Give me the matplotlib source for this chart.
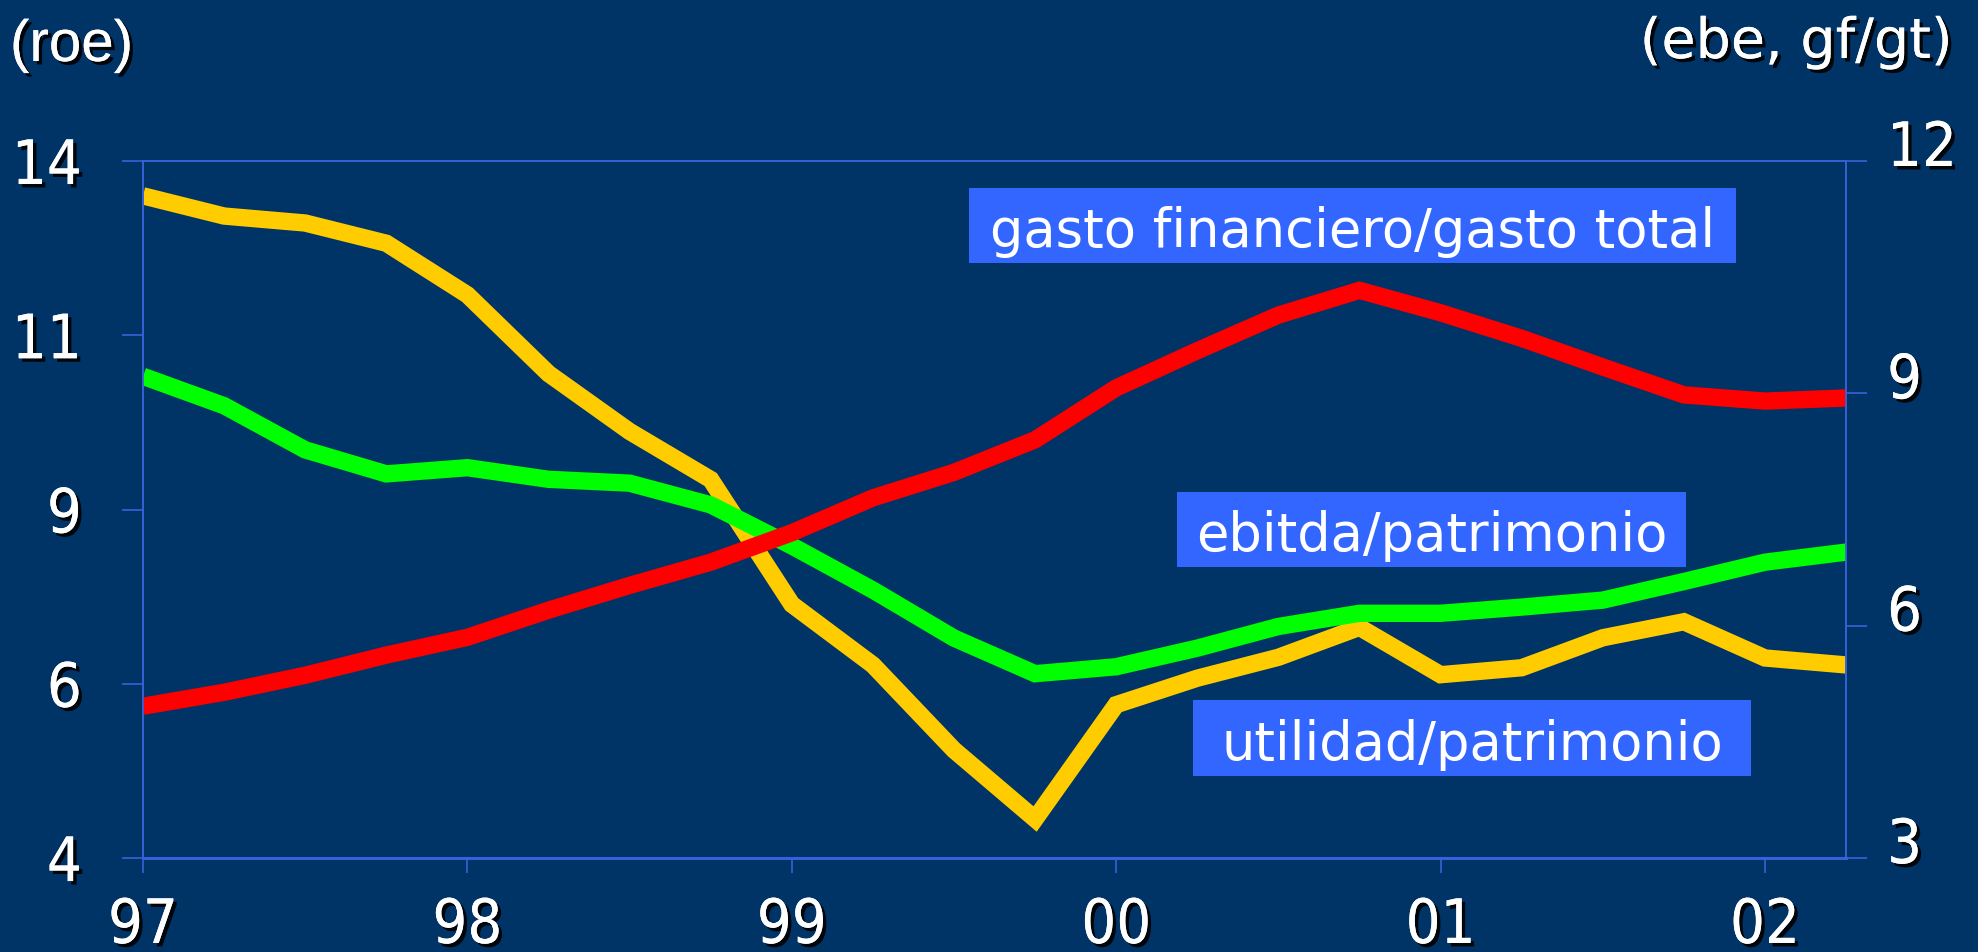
import matplotlib
matplotlib.use("Agg")
import matplotlib.pyplot as plt
import matplotlib.patches as patches
import matplotlib.patheffects as pe
import matplotlib.transforms as mtransforms
from matplotlib import font_manager

# quarterly data, 1997Q1 .. 2002Q2
quarters = [1997 + 0.25 * i for i in range(22)]

utilidad_patrimonio = [13.50, 13.21, 13.11, 12.82, 12.08, 10.95, 10.12, 9.43,
                       7.64, 6.77, 5.55, 4.56, 6.20, 6.58, 6.88, 7.31,
                       6.63, 6.73, 7.16, 7.39, 6.87, 6.77]
ebitda_patrimonio = [9.22, 8.84, 8.27, 7.96, 8.04, 7.89, 7.84, 7.56,
                     7.03, 6.46, 5.84, 5.38, 5.47, 5.71, 5.99, 6.16,
                     6.16, 6.24, 6.33, 6.57, 6.82, 6.95]
gasto_fin_total = [4.96, 5.14, 5.36, 5.62, 5.85, 6.20, 6.52, 6.82,
                   7.20, 7.65, 7.98, 8.40, 9.07, 9.55, 10.01, 10.33,
                   10.04, 9.71, 9.34, 8.98, 8.90, 8.94]

year_ticks = [1997, 1998, 1999, 2000, 2001, 2002]
year_labels = ["97", "98", "99", "00", "01", "02"]
left_ticks = [4, 6.5, 9, 11.5, 14]
left_labels = ["4", "6", "9", "11", "14"]
right_ticks = [3, 6, 9, 12]
right_labels = ["3", "6", "9", "12"]

BG = "#003366"
AXC = "#3a60d8"
BOX = "#3366ff"


def narrow_font(size):
    # look for any condensed / narrow sans on the system
    prefs = ["LiberationSansNarrow-Regular", "ArialNarrow", "arialn",
             "DejaVuSansCondensed.ttf", "NotoSans-Condensed.ttf",
             "RobotoCondensed-Regular", "Condensed-Regular", "Condensed"]
    files = [f.fname for f in font_manager.fontManager.ttflist]
    for p in prefs:
        for fn in files:
            base = fn.split("/")[-1]
            if p in base and "Bold" not in base and "Oblique" not in base \
                    and "Italic" not in base and "Light" not in base:
                return font_manager.FontProperties(fname=fn, size=size), True
    return font_manager.FontProperties(family="Liberation Sans", size=size), False


fp_num, is_narrow = narrow_font(44)
if not is_narrow:
    fp_num.set_size(40)

shadow = [pe.withSimplePatchShadow(offset=(2.5, -2.5), shadow_rgbFace="black", alpha=0.9),
          pe.Normal()]

fig = plt.figure(figsize=(19.78, 9.52), dpi=100, facecolor=BG)
ax = fig.add_axes([0.0723, 0.0987, 0.8610, 0.7322])
ax.set_facecolor(BG)
ax2 = ax.twinx()

line_kw = dict(lw=12.5, solid_joinstyle="miter", solid_capstyle="butt")
ax.plot(quarters, utilidad_patrimonio, color="#ffcc00", **line_kw)
ax2.plot(quarters, ebitda_patrimonio, color="#00ff00", **line_kw)
ax2.plot(quarters, gasto_fin_total, color="#ff0000", **line_kw)

ax.set_xlim(1997, 2002.25)
ax.set_ylim(4, 14)
ax2.set_ylim(3, 12)

for a in (ax, ax2):
    for s in a.spines.values():
        s.set_color(AXC)
        s.set_linewidth(1.2)
ax.spines["bottom"].set_linewidth(2.2)

ax.set_xticks(year_ticks)
ax.set_xticklabels(year_labels)
ax.tick_params(axis="x", direction="out", length=11, width=1.2, color=AXC,
               pad=17, labelcolor="white")
ax.set_yticks(left_ticks)
ax.set_yticklabels(left_labels)
ax.tick_params(axis="y", direction="out", length=15, width=1.2, color=AXC,
               pad=29, labelcolor="white")
for lab in ax.get_xticklabels() + ax.get_yticklabels():
    lab.set_fontproperties(fp_num)
    lab.set_path_effects(shadow)

ax2.set_yticks(right_ticks)
ax2.set_yticklabels([])
ax2.tick_params(axis="y", direction="out", length=15, width=1.2, color=AXC)
rtrans = mtransforms.blended_transform_factory(ax2.transAxes, ax2.transData) + \
    mtransforms.ScaledTranslation(0.41, -0.05, fig.dpi_scale_trans)
for v, t in zip(right_ticks, right_labels):
    ax2.text(1.0, v, t, transform=rtrans, ha="left", va="baseline",
             fontproperties=fp_num, color="white", path_effects=shadow,
             clip_on=False)

fig.text(10 / 1978, 1 - 61 / 952, "(roe)", ha="left", va="baseline",
         fontsize=42, family="Liberation Sans", color="white", path_effects=shadow)
fig.text(1952 / 1978, 1 - 58 / 952, "(ebe, gf/gt)", ha="right", va="baseline",
         fontsize=40, family="DejaVu Sans", color="white", path_effects=shadow)

# label boxes (pixel positions in the figure)
boxes = [
    ("gasto financiero/gasto total", 969, 1736, 188, 263),
    ("ebitda/patrimonio", 1177, 1686, 492, 567),
    ("utilidad/patrimonio", 1193, 1751, 700, 776),
]
W, H = 1978, 952
for text, x0, x1, y0, y1 in boxes:
    rect = patches.Rectangle((x0 / W, 1 - y1 / H), (x1 - x0) / W, (y1 - y0) / H,
                             transform=fig.transFigure, facecolor=BOX,
                             edgecolor="none", zorder=5)
    fig.add_artist(rect)
    fig.text((x0 + x1) / 2 / W, 1 - (y1 - 16) / H, text, ha="center",
             va="baseline", fontsize=38, family="DejaVu Sans", color="white",
             zorder=6)

fig.savefig("out.png", dpi=100, facecolor=BG)
